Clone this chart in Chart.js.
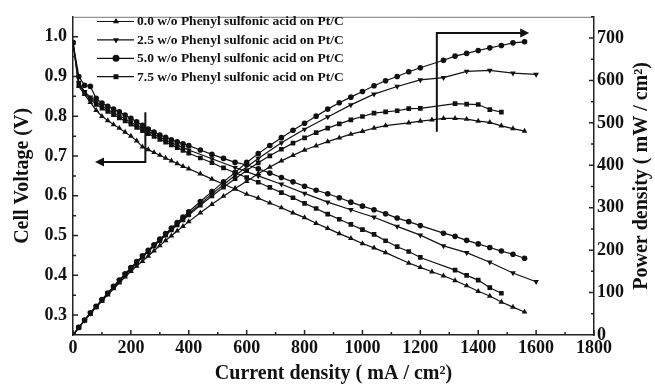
<!DOCTYPE html>
<html>
<head>
<meta charset="utf-8">
<script src="https://cdn.jsdelivr.net/npm/chart.js@4.4.0/dist/chart.umd.min.js"></script>
<style>
  html, body { margin: 0; padding: 0; background: #fff; }
</style>
</head>
<body>
<canvas id="chart" width="655" height="386"></canvas>
<script>
const SERIF = '"Liberation Serif", "Times New Roman", serif';
const INK = '#111';

// current density (mA/cm2) for each sample
const cur00 = [0, 20, 40, 60, 80, 100, 120, 140, 160, 180, 200, 220, 240, 260, 280, 300, 320, 340, 360, 380, 400,
  440, 480, 520, 560, 600, 640, 680, 720, 760, 800, 840, 880, 920, 960, 1000, 1040, 1080,
  1160, 1200, 1240, 1280, 1320, 1360, 1400, 1440, 1480, 1520, 1560];
const cur25 = [0, 20, 40, 60, 80, 100, 120, 140, 160, 180, 200, 220, 240, 260, 280, 300, 320, 340, 360, 380, 400,
  480, 560, 640, 720, 800, 880, 960, 1040, 1120, 1200, 1280, 1360, 1440, 1520, 1600];
const cur50 = [0, 20, 40, 60, 80, 100, 120, 140, 160, 180, 200, 220, 240, 260, 280, 300, 320, 340, 360, 380, 400,
  440, 480, 520, 560, 600, 640, 680, 720, 760, 800, 840, 880, 920, 960, 1000, 1040, 1080, 1120, 1160, 1200,
  1280, 1320, 1360, 1400, 1440, 1480, 1520, 1560];
const cur75 = [0, 20, 40, 60, 80, 100, 120, 140, 160, 180, 200, 220, 240, 260, 280, 300, 320, 340, 360, 380, 400,
  440, 480, 520, 560, 600, 640, 680, 720, 760, 800, 840, 880, 920, 960, 1000, 1040, 1080, 1120, 1160, 1200,
  1320, 1360, 1400, 1440, 1480];

// cell voltage (V)
const volt00 = [0.985, 0.875, 0.855, 0.835, 0.815, 0.800, 0.789, 0.779, 0.770, 0.760, 0.750, 0.738, 0.723, 0.716, 0.709, 0.702, 0.695, 0.688, 0.681, 0.674, 0.668,
  0.655, 0.642, 0.629, 0.617, 0.604, 0.594, 0.582, 0.570, 0.557, 0.545, 0.531, 0.518, 0.505, 0.493, 0.480, 0.469, 0.457,
  0.431, 0.420, 0.409, 0.399, 0.387, 0.374, 0.360, 0.348, 0.333, 0.320, 0.308];
const volt25 = [0.985, 0.885, 0.862, 0.848, 0.835, 0.825, 0.817, 0.809, 0.801, 0.793, 0.785, 0.777, 0.769, 0.761, 0.754, 0.747, 0.740, 0.733, 0.727, 0.721, 0.715,
  0.693, 0.671, 0.650, 0.629, 0.606, 0.584, 0.565, 0.546, 0.523, 0.501, 0.474, 0.457, 0.433, 0.406, 0.384];
const volt50 = [0.985, 0.900, 0.878, 0.875, 0.845, 0.833, 0.825, 0.818, 0.811, 0.803, 0.795, 0.786, 0.777, 0.768, 0.760, 0.753, 0.747, 0.741, 0.736, 0.731, 0.726,
  0.715, 0.704, 0.694, 0.684, 0.678, 0.668, 0.657, 0.646, 0.635, 0.624, 0.614, 0.605, 0.595, 0.584, 0.574, 0.565, 0.555, 0.544, 0.535, 0.525,
  0.506, 0.498, 0.488, 0.479, 0.470, 0.461, 0.453, 0.443];
const volt75 = [0.985, 0.880, 0.858, 0.843, 0.830, 0.820, 0.812, 0.804, 0.796, 0.788, 0.780, 0.772, 0.764, 0.756, 0.749, 0.742, 0.735, 0.728, 0.721, 0.714, 0.707,
  0.695, 0.683, 0.670, 0.658, 0.646, 0.634, 0.621, 0.608, 0.595, 0.581, 0.568, 0.554, 0.541, 0.528, 0.515, 0.503, 0.487, 0.472, 0.460, 0.445,
  0.413, 0.400, 0.388, 0.369, 0.355];

// power density (mW/cm2)
const pow00 = [0, 17.5, 34.2, 50.1, 65.2, 80.0, 94.7, 109.1, 123.2, 136.8, 150.0, 162.4, 173.5, 186.2, 198.5, 210.6, 222.4, 233.9, 245.2, 256.1, 267.2,
  288.2, 308.2, 327.1, 345.5, 362.4, 380.2, 395.8, 410.4, 423.3, 436.0, 446.0, 455.8, 464.6, 473.3, 480.0, 487.8, 493.6,
  500.0, 504.0, 507.2, 510.7, 510.8, 508.6, 504.0, 501.1, 492.8, 486.4, 480.5];
const pow25 = [0, 17.7, 34.5, 50.9, 66.8, 82.5, 98.0, 113.3, 128.2, 142.7, 157.0, 170.9, 184.6, 197.9, 211.1, 224.1, 236.8, 249.2, 261.7, 274.0, 286.0,
  332.6, 375.8, 416.0, 452.9, 484.8, 513.9, 542.4, 567.8, 585.8, 601.2, 606.7, 621.5, 623.5, 617.1, 614.4];
const pow50 = [0, 18.0, 35.1, 52.5, 67.6, 83.3, 99.0, 114.5, 129.8, 144.5, 159.0, 172.9, 186.5, 199.7, 212.8, 225.9, 239.0, 251.9, 265.0, 277.8, 290.4,
  314.6, 337.9, 360.9, 383.0, 406.8, 427.5, 446.8, 465.1, 482.6, 499.2, 515.8, 532.4, 547.4, 560.6, 574.0, 587.6, 599.4, 609.3, 620.6, 630.0,
  647.7, 657.4, 663.7, 670.6, 676.8, 682.3, 688.6, 691.1];
const pow75 = [0, 17.6, 34.3, 50.6, 66.4, 82.0, 97.4, 112.6, 127.4, 141.8, 156.0, 169.8, 183.4, 196.6, 209.7, 222.6, 235.2, 247.5, 259.6, 271.3, 282.8,
  305.8, 327.8, 348.4, 368.5, 387.6, 405.8, 422.3, 437.8, 452.2, 464.8, 477.1, 487.5, 497.7, 506.9, 515.0, 523.1, 526.0, 528.6, 533.6, 534.0,
  545.2, 544.0, 543.2, 531.4, 525.4];

const seriesNames = [
  '0.0 w/o Phenyl sulfonic acid on Pt/C',
  '2.5 w/o Phenyl sulfonic acid on Pt/C',
  '5.0 w/o Phenyl sulfonic acid on Pt/C',
  '7.5 w/o Phenyl sulfonic acid on Pt/C',
];

// tick labels
const xTicks = [0, 200, 400, 600, 800, 1000, 1200, 1400, 1600, 1800];
const vTicks = [0.3, 0.4, 0.5, 0.6, 0.7, 0.8, 0.9, 1.0];
const pTicks = [0, 100, 200, 300, 400, 500, 600, 700];

// arrows: [x, y] pairs in data units (voltage side / power side)
const voltArrow = [[250, 0.81], [250, 0.685], [76, 0.685]];
const powArrow = [[1257, 479], [1257, 712], [1576, 712]];

const toXY = (xs, ys) => xs.map((x, i) => ({ x, y: ys[i] }));

const markers = [
  { pointStyle: 'triangle', rotation: 0 },
  { pointStyle: 'triangle', rotation: 180 },
  { pointStyle: 'circle', rotation: 0 },
  { pointStyle: 'rect', rotation: 0 },
];

const lineStyle = (m, axis) => ({
  yAxisID: axis,
  borderColor: INK,
  backgroundColor: INK,
  borderWidth: 1.2,
  pointRadius: m.pointStyle === 'circle' ? 2.8 : 3.3,
  pointBorderWidth: 0,
  pointBackgroundColor: INK,
  pointStyle: m.pointStyle,
  rotation: m.rotation,
  tension: 0,
  fill: false,
});

const voltSets = [volt00, volt25, volt50, volt75];
const powSets = [pow00, pow25, pow50, pow75];
const curSets = [cur00, cur25, cur50, cur75];

const datasets = [];
voltSets.forEach((v, i) => datasets.push({ label: seriesNames[i], data: toXY(curSets[i], v), ...lineStyle(markers[i], 'y') }));
powSets.forEach((p, i) => datasets.push({ label: seriesNames[i] + ' (P)', data: toXY(curSets[i], p), ...lineStyle(markers[i], 'y2') }));

const decor = {
  id: 'decor',
  afterDraw(chart) {
    const { ctx, chartArea: a, scales } = chart;
    const { x, y, y2 } = scales;
    ctx.save();

    // top frame line
    ctx.strokeStyle = '#777';
    ctx.lineWidth = 1;
    ctx.beginPath();
    ctx.moveTo(a.left, a.top + 0.5);
    ctx.lineTo(a.right, a.top + 0.5);
    ctx.stroke();

    // inward tick marks, major and minor
    ctx.strokeStyle = '#222';
    ctx.lineWidth = 1.5;
    ctx.beginPath();
    xTicks.forEach((v, i) => {
      const px = x.getPixelForValue(v);
      ctx.moveTo(px, a.bottom); ctx.lineTo(px, a.bottom - 5);
      if (i > 0) {
        const mx = x.getPixelForValue((v + xTicks[i - 1]) / 2);
        ctx.moveTo(mx, a.bottom); ctx.lineTo(mx, a.bottom - 3);
      }
    });
    vTicks.forEach((v) => {
      const py = y.getPixelForValue(v);
      ctx.moveTo(a.left, py); ctx.lineTo(a.left + 5, py);
      if (v < 1.0) {
        const my = y.getPixelForValue(v + 0.05);
        ctx.moveTo(a.left, my); ctx.lineTo(a.left + 3, my);
      }
    });
    pTicks.forEach((v) => {
      const py = y2.getPixelForValue(v);
      if (v > 0) { ctx.moveTo(a.right, py); ctx.lineTo(a.right - 5, py); }
      const my = y2.getPixelForValue(v + 50);
      ctx.moveTo(a.right, my); ctx.lineTo(a.right - 3, my);
    });
    ctx.stroke();

    // arrows
    const drawArrow = (pts, scaleY, dir) => {
      const p = pts.map(([vx, vy]) => [x.getPixelForValue(vx), scaleY.getPixelForValue(vy)]);
      ctx.strokeStyle = '#111';
      ctx.lineWidth = 2;
      ctx.beginPath();
      ctx.moveTo(p[0][0], p[0][1]);
      ctx.lineTo(p[1][0], p[1][1]);
      ctx.lineTo(p[2][0] - dir * 7, p[2][1]);
      ctx.stroke();
      ctx.fillStyle = '#111';
      ctx.beginPath();
      ctx.moveTo(p[2][0], p[2][1]);
      ctx.lineTo(p[2][0] - dir * 9, p[2][1] - 4.5);
      ctx.lineTo(p[2][0] - dir * 9, p[2][1] + 4.5);
      ctx.closePath();
      ctx.fill();
    };
    drawArrow(voltArrow, y, -1);
    drawArrow(powArrow, y2, 1);

    // legend (line + marker + text)
    ctx.font = 'bold 13.5px ' + SERIF;
    ctx.textBaseline = 'middle';
    ctx.textAlign = 'left';
    seriesNames.forEach((name, i) => {
      const ds = chart.data.datasets[i];
      const ly = 21.5 + i * 18.4;
      ctx.strokeStyle = INK;
      ctx.lineWidth = 1.2;
      ctx.beginPath();
      ctx.moveTo(97, ly); ctx.lineTo(134, ly);
      ctx.stroke();
      ctx.fillStyle = INK;
      Chart.helpers.drawPoint(ctx, { pointStyle: ds.pointStyle, rotation: ds.rotation, radius: 3.5, borderWidth: 0 }, 116, ly);
      ctx.fillStyle = INK;
      ctx.fillText(name, 137, ly + 0.5);
    });

    // right axis title, reading bottom to top
    ctx.save();
    ctx.translate(642, (a.top + a.bottom) / 2);
    ctx.rotate(-Math.PI / 2);
    ctx.font = 'bold 20px ' + SERIF;
    ctx.textAlign = 'center';
    ctx.textBaseline = 'middle';
    ctx.fillStyle = INK;
    ctx.fillText('Power density ( mW / cm\u00b2)', 0, 0);
    ctx.restore();

    ctx.restore();
  },
};

const tickFont = { family: SERIF, size: 18, weight: 'bold' };
const noGrid = { display: false, drawTicks: false, tickLength: 0 };

new Chart(document.getElementById('chart'), {
  type: 'line',
  data: { datasets },
  plugins: [decor],
  options: {
    responsive: false,
    animation: false,
    devicePixelRatio: 1,
    layout: { padding: { top: 10, left: 0, right: 0, bottom: 0 } },
    plugins: { legend: { display: false }, tooltip: { enabled: false } },
    scales: {
      x: {
        type: 'linear',
        position: 'bottom',
        min: 0,
        max: 1800,
        afterBuildTicks: (s) => { s.ticks = xTicks.map((value) => ({ value })); },
        afterFit: (s) => { s.height = 51; },
        grid: noGrid,
        border: { display: true, color: '#222', width: 1.5 },
        ticks: { font: tickFont, color: INK, padding: 3, maxRotation: 0, autoSkip: false, callback: (v) => String(v) },
        title: {
          display: true,
          text: 'Current density ( mA / cm\u00b2)',
          font: { family: SERIF, size: 20, weight: 'bold' },
          color: INK,
          padding: { top: 0, bottom: 0 },
        },
      },
      y: {
        type: 'linear',
        position: 'left',
        min: 0.25,
        max: 1.05,
        afterBuildTicks: (s) => { s.ticks = vTicks.map((value) => ({ value })); },
        afterFit: (s) => { s.width = 73; },
        grid: noGrid,
        border: { display: true, color: '#222', width: 1.5 },
        ticks: { font: tickFont, color: INK, padding: 6, callback: (v) => v.toFixed(1) },
        title: {
          display: true,
          text: 'Cell Voltage (V)',
          font: { family: SERIF, size: 20, weight: 'bold' },
          color: INK,
          padding: { top: 11, bottom: 0 },
        },
      },
      y2: {
        type: 'linear',
        position: 'right',
        min: 0,
        max: 750,
        afterBuildTicks: (s) => { s.ticks = pTicks.map((value) => ({ value })); },
        afterFit: (s) => { s.width = 61; },
        grid: noGrid,
        border: { display: true, color: '#222', width: 1.5 },
        ticks: { font: tickFont, color: INK, padding: 3, callback: (v) => String(v) },
        title: { display: false },
      },
    },
  },
});
</script>
</body>
</html>
